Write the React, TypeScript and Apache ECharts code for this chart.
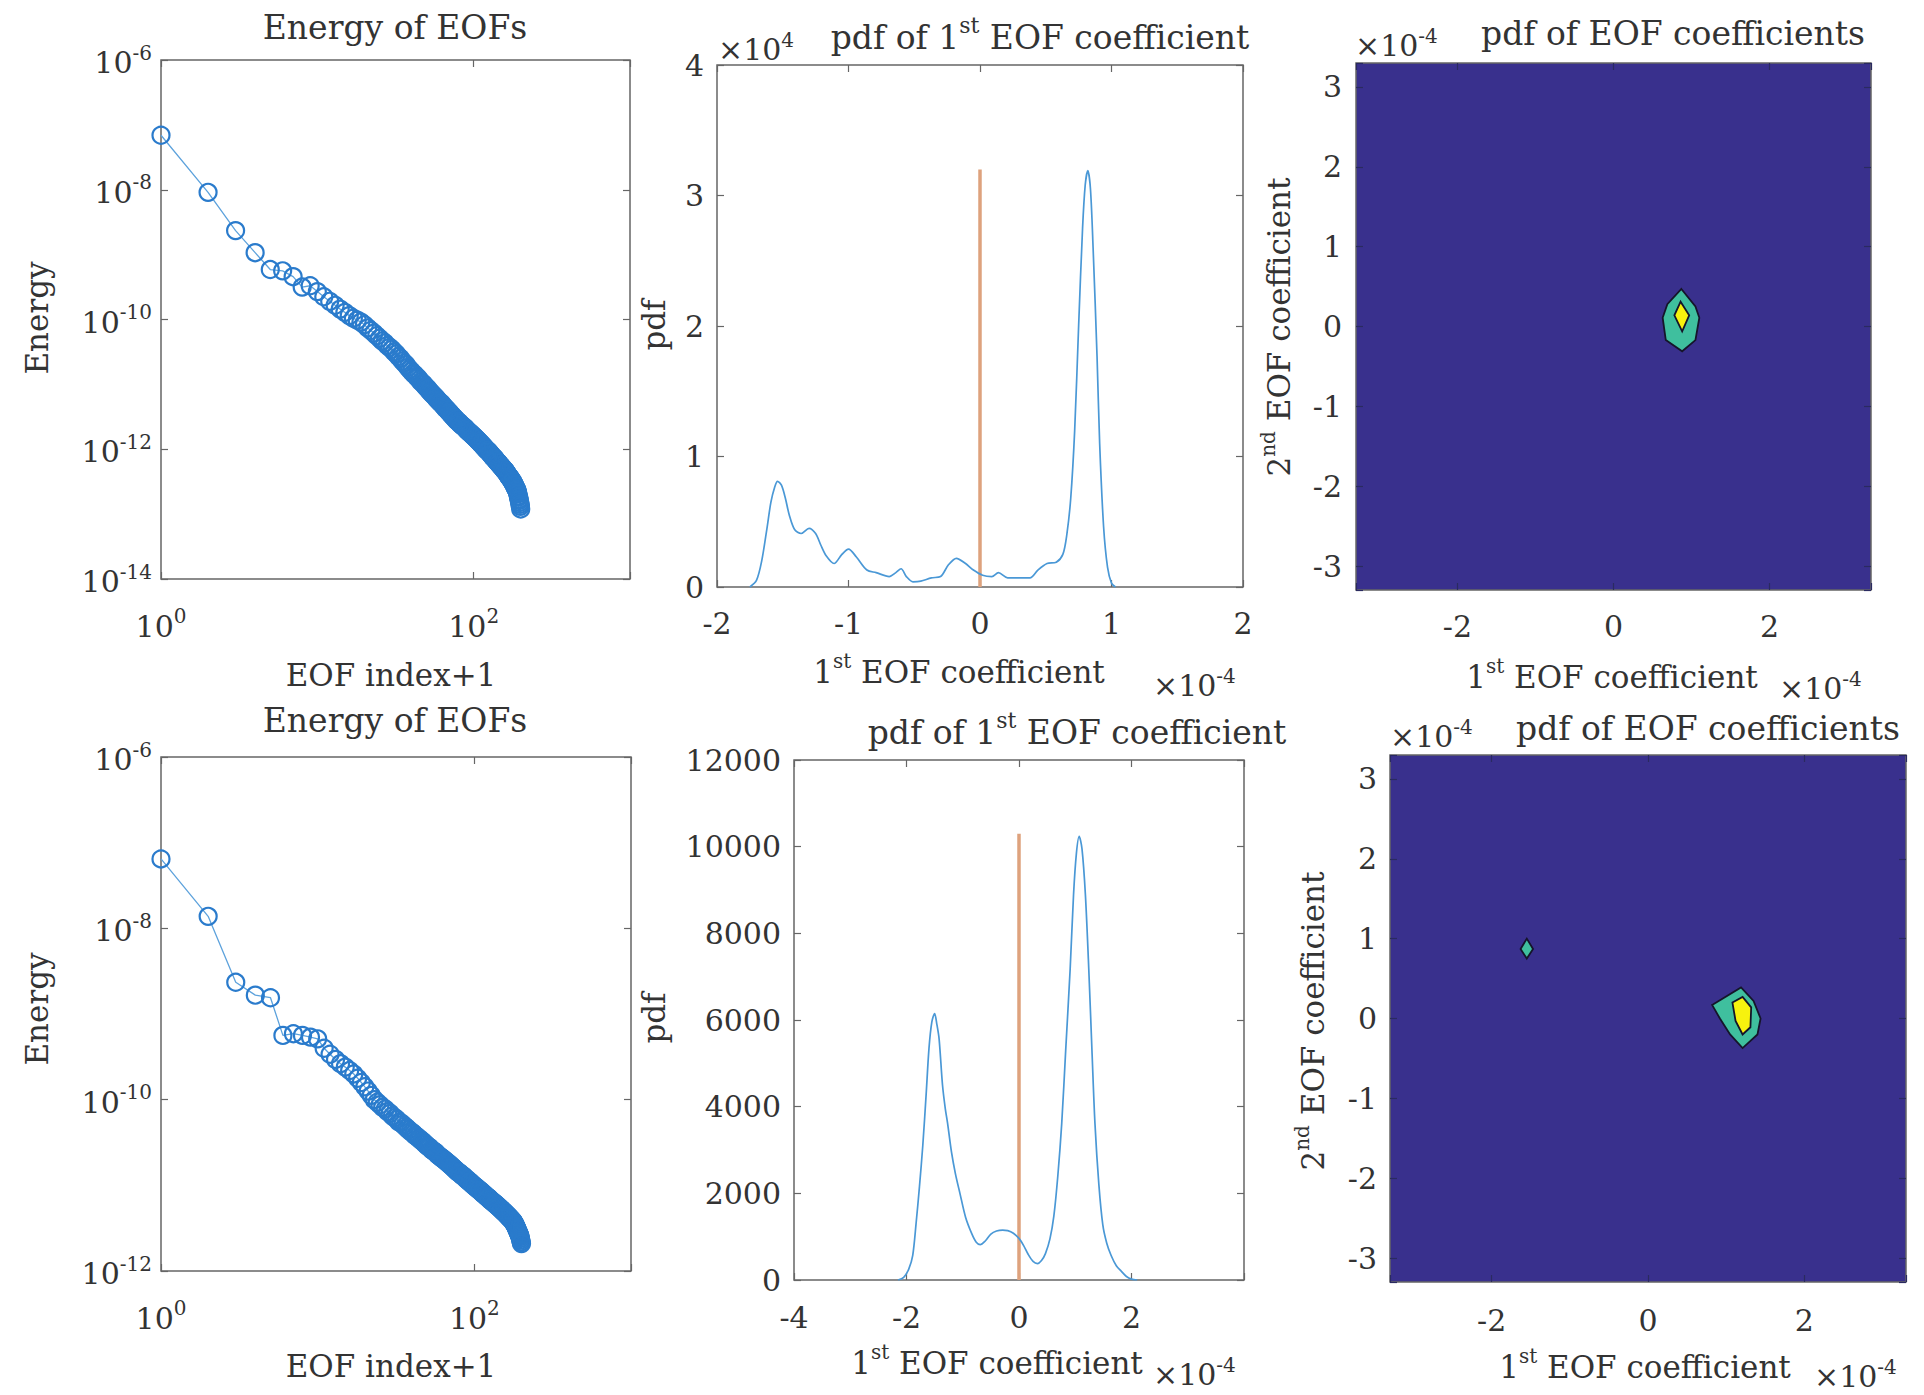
import React, { useEffect, useRef } from "react";
import * as echarts from "echarts";

// ---------- DATA ----------
// log10 of EOF energy, EOF index+1 = 1..200 (top row)
const energyTopLog10 = [
  -7.16, -8.04, -8.63, -8.97, -9.23, -9.25, -9.34, -9.5, -9.48, -9.57,
  -9.65, -9.72, -9.78, -9.84, -9.89, -9.94, -9.98, -10.01, -10.04, -10.08,
  -10.13, -10.17, -10.21, -10.25, -10.29, -10.33, -10.36, -10.4, -10.43, -10.46,
  -10.5, -10.53, -10.57, -10.6, -10.64, -10.67, -10.7, -10.74, -10.77, -10.8,
  -10.83, -10.85, -10.88, -10.9, -10.93, -10.96, -10.98, -11.0, -11.03, -11.05,
  -11.07, -11.1, -11.12, -11.14, -11.16, -11.18, -11.2, -11.22, -11.24, -11.26,
  -11.28, -11.29, -11.31, -11.33, -11.35, -11.37, -11.38, -11.4, -11.42, -11.43,
  -11.45, -11.47, -11.48, -11.5, -11.51, -11.53, -11.54, -11.56, -11.57, -11.58,
  -11.59, -11.61, -11.62, -11.63, -11.64, -11.65, -11.66, -11.67, -11.68, -11.7,
  -11.71, -11.72, -11.73, -11.74, -11.75, -11.76, -11.77, -11.78, -11.79, -11.8,
  -11.81, -11.82, -11.83, -11.84, -11.85, -11.86, -11.87, -11.88, -11.89, -11.9,
  -11.91, -11.92, -11.93, -11.94, -11.95, -11.96, -11.97, -11.98, -11.99, -12.0,
  -12.01, -12.02, -12.02, -12.03, -12.04, -12.05, -12.06, -12.07, -12.08, -12.09,
  -12.1, -12.11, -12.12, -12.13, -12.13, -12.14, -12.15, -12.16, -12.17, -12.18,
  -12.19, -12.2, -12.2, -12.21, -12.22, -12.23, -12.24, -12.25, -12.25, -12.26,
  -12.27, -12.28, -12.29, -12.29, -12.3, -12.31, -12.32, -12.33, -12.33, -12.34,
  -12.35, -12.36, -12.37, -12.38, -12.39, -12.4, -12.41, -12.42, -12.43, -12.43,
  -12.44, -12.45, -12.46, -12.47, -12.48, -12.49, -12.5, -12.5, -12.52, -12.53,
  -12.54, -12.55, -12.56, -12.58, -12.59, -12.6, -12.61, -12.62, -12.63, -12.65,
  -12.67, -12.69, -12.72, -12.74, -12.77, -12.79, -12.82, -12.85, -12.88, -12.92,
];

// log10 of EOF energy, bottom row
const energyBottomLog10 = [
  -7.19, -7.86, -8.63, -8.78, -8.81, -9.25, -9.23, -9.25, -9.27, -9.29,
  -9.4, -9.47, -9.53, -9.58, -9.62, -9.66, -9.7, -9.75, -9.8, -9.85,
  -9.9, -9.95, -10.0, -10.03, -10.06, -10.09, -10.11, -10.14, -10.16, -10.19,
  -10.21, -10.23, -10.26, -10.27, -10.29, -10.31, -10.33, -10.35, -10.37, -10.38,
  -10.4, -10.42, -10.43, -10.45, -10.46, -10.48, -10.49, -10.51, -10.52, -10.54,
  -10.55, -10.56, -10.58, -10.59, -10.6, -10.61, -10.62, -10.64, -10.65, -10.66,
  -10.67, -10.68, -10.69, -10.7, -10.71, -10.72, -10.73, -10.74, -10.75, -10.76,
  -10.77, -10.78, -10.79, -10.8, -10.81, -10.82, -10.83, -10.84, -10.85, -10.85,
  -10.86, -10.87, -10.88, -10.89, -10.89, -10.9, -10.91, -10.92, -10.93, -10.93,
  -10.94, -10.95, -10.96, -10.96, -10.97, -10.98, -10.99, -10.99, -11.0, -11.01,
  -11.01, -11.02, -11.03, -11.03, -11.04, -11.05, -11.05, -11.06, -11.06, -11.07,
  -11.08, -11.08, -11.09, -11.1, -11.1, -11.11, -11.11, -11.12, -11.13, -11.13,
  -11.14, -11.14, -11.15, -11.15, -11.16, -11.17, -11.17, -11.18, -11.18, -11.19,
  -11.19, -11.2, -11.2, -11.21, -11.21, -11.22, -11.22, -11.23, -11.23, -11.24,
  -11.24, -11.25, -11.25, -11.26, -11.26, -11.27, -11.27, -11.28, -11.28, -11.29,
  -11.29, -11.3, -11.3, -11.31, -11.31, -11.32, -11.32, -11.33, -11.33, -11.34,
  -11.34, -11.35, -11.35, -11.36, -11.36, -11.37, -11.37, -11.38, -11.38, -11.39,
  -11.39, -11.4, -11.4, -11.41, -11.41, -11.42, -11.42, -11.43, -11.44, -11.45,
  -11.45, -11.46, -11.47, -11.48, -11.49, -11.5, -11.51, -11.52, -11.53, -11.54,
  -11.55, -11.56, -11.57, -11.58, -11.59, -11.6, -11.62, -11.64, -11.66, -11.68,
];

// pdf of 1st EOF coefficient (top): x in 1e-4, pdf in 1e4
const pdfTopX = [
  -1.75, -1.7, -1.66, -1.62, -1.59, -1.56, -1.54, -1.51, -1.48, -1.45, -1.41, -1.36, -1.3, -1.25,
  -1.21, -1.17, -1.11, -1.05, -1.0, -0.94, -0.86, -0.79, -0.69, -0.64, -0.6, -0.56, -0.51, -0.45,
  -0.37, -0.3, -0.24, -0.18, -0.11, -0.05, 0.02, 0.09, 0.14, 0.21, 0.3, 0.38, 0.44, 0.51, 0.58,
  0.63, 0.66, 0.69, 0.72, 0.75, 0.78, 0.8, 0.82, 0.84, 0.86, 0.89, 0.91, 0.94, 0.97, 1.0, 1.03,
];
const pdfTopY = [
  0, 0.05, 0.2, 0.45, 0.65, 0.77, 0.81, 0.78, 0.68, 0.55, 0.44, 0.41, 0.45, 0.41,
  0.32, 0.24, 0.18, 0.25, 0.29, 0.23, 0.13, 0.11, 0.08, 0.11, 0.14, 0.08, 0.04, 0.045,
  0.07, 0.08, 0.17, 0.22, 0.18, 0.13, 0.09, 0.08, 0.11, 0.07, 0.07, 0.07, 0.13, 0.18, 0.19,
  0.25, 0.4, 0.68, 1.2, 2.0, 2.75, 3.08, 3.19, 3.05, 2.6, 1.77, 1.1, 0.46, 0.15, 0.03, 0,
];
const zeroLineTopHeight = 3.2;

// pdf of 1st EOF coefficient (bottom): x in 1e-4
const pdfBottomX = [
  -2.15, -2.05, -1.96, -1.89, -1.83, -1.77, -1.71, -1.65, -1.6, -1.55, -1.5, -1.46, -1.42, -1.36,
  -1.31, -1.27, -1.2, -1.13, -1.05, -0.95, -0.84, -0.76, -0.69, -0.6, -0.5, -0.4, -0.29, -0.2,
  -0.1, 0.0, 0.08, 0.16, 0.25, 0.33, 0.4, 0.47, 0.55, 0.62, 0.69, 0.76, 0.83, 0.91, 0.97, 1.02,
  1.07, 1.12, 1.18, 1.24, 1.3, 1.35, 1.42, 1.49, 1.56, 1.64, 1.73, 1.82, 1.91, 2.0, 2.1,
];
const pdfBottomY = [
  0, 60, 250, 560, 1300, 2150, 3110, 4300, 5350, 5950, 6150, 5900, 5560, 4500,
  3950, 3620, 2950, 2450, 2000, 1450, 1070, 870, 815, 900, 1060, 1130, 1150, 1140,
  1080, 960, 800, 600, 430, 380, 450, 610, 950, 1480, 2400, 3620, 5300, 7190, 8900, 9840,
  10240, 9950, 8900, 7190, 5200, 3620, 2200, 1270, 850, 560, 330, 200, 80, 20, 0,
];
const zeroLineBottomHeight = 10300;

// joint pdf contour regions (x, y in 1e-4)
const contourTopOuter = [[0.87, 0.47], [1.05, 0.25], [1.1, 0.11], [1.05, -0.17], [0.88, -0.31], [0.67, -0.17], [0.63, 0.11], [0.69, 0.28]];
const contourTopInner = [[0.86, 0.31], [0.97, 0.14], [0.88, -0.06], [0.78, 0.14]];
const contourBottomSmall = [[-1.55, 1.0], [-1.47, 0.87], [-1.55, 0.75], [-1.63, 0.87]];
const contourBottomOuter = [[0.82, 0.17], [1.19, 0.39], [1.35, 0.22], [1.44, 0.0], [1.4, -0.2], [1.21, -0.37], [1.05, -0.2], [0.92, 0.0]];
const contourBottomInner = [[1.08, 0.2], [1.21, 0.27], [1.32, 0.14], [1.31, -0.11], [1.21, -0.2], [1.12, -0.03]];

// ---------- STYLE ----------
const FONT = "DejaVu Serif";
const TXT = "#333333";
const AXIS = "#666666";
const NAVY = "#39308d";
const TEAL = "#3fbf9e";
const YELLOW = "#f7f20e";
const BLUE = "#2a7bcc";
const TICK_SIZE = 30;

const makeRich = (size: number) => ({
  b: { fontFamily: FONT, fontSize: size, color: TXT, verticalAlign: "bottom" },
  s: {
    fontFamily: FONT,
    fontSize: Math.round(size * 0.66),
    color: TXT,
    verticalAlign: "bottom",
    padding: [0, 0, Math.round(size * 0.5), 0],
  },
});

const isInt = (v: number) => Math.abs(v - Math.round(v)) < 1e-9;

export default function App() {
  const ref = useRef<HTMLDivElement>(null);

  useEffect(() => {
    document.body.style.margin = "0";
    if (!ref.current) return;
    const chart = echarts.init(ref.current, undefined, { renderer: "svg" });

    const grids = [
      { left: 161, top: 60, width: 469, height: 519 },
      { left: 717, top: 65, width: 526, height: 522 },
      { left: 1356, top: 63, width: 515, height: 527, bg: NAVY },
      { left: 161, top: 757, width: 470, height: 514 },
      { left: 794, top: 760, width: 450, height: 520 },
      { left: 1390, top: 755, width: 516, height: 527, bg: NAVY },
    ];

    const logFmt = (v: number) => `{b|10}{s|${Math.round(v)}}`;
    const logFmtEven = (v: number) => (isInt(v) && Math.round(v) % 2 === 0 ? `{b|10}{s|${Math.round(v)}}` : "");
    const intFmt = (v: number) => (isInt(v) ? `${Math.round(v)}` : "");

    type Spec = { min: number; max: number; interval?: number; splitNumber?: number; fmt: any; margin: number };
    const xSpecs: Spec[] = [
      { min: 0, max: 3, interval: 2, fmt: logFmtEven, margin: 27 },
      { min: -2, max: 2, interval: 1, fmt: intFmt, margin: 21 },
      { min: -3.3, max: 3.3, splitNumber: 3, fmt: intFmt, margin: 21 },
      { min: 0, max: 3, interval: 2, fmt: logFmtEven, margin: 27 },
      { min: -4, max: 4, interval: 2, fmt: (v: number) => (v >= 4 ? "" : intFmt(v)), margin: 22 },
      { min: -3.3, max: 3.3, splitNumber: 3, fmt: intFmt, margin: 23 },
    ];
    const ySpecs: Spec[] = [
      { min: -14, max: -6, interval: 2, fmt: logFmt, margin: 9 },
      { min: 0, max: 4, interval: 1, fmt: intFmt, margin: 13 },
      { min: -3.3, max: 3.3, splitNumber: 6, fmt: intFmt, margin: 14 },
      { min: -12, max: -6, interval: 2, fmt: logFmt, margin: 9 },
      { min: 0, max: 12000, interval: 2000, fmt: intFmt, margin: 13 },
      { min: -3.3, max: 3.3, splitNumber: 6, fmt: intFmt, margin: 13 },
    ];

    const tickColor = (i: number) => (grids[i].bg ? "#2a2a60" : AXIS);
    const mkAxis = (i: number, spec: Spec, position: string, showLabel: boolean) => ({
      type: "value",
      gridIndex: i,
      position,
      min: spec.min,
      max: spec.max,
      interval: spec.interval,
      splitNumber: spec.splitNumber,
      axisLine: { show: false, onZero: false },
      splitLine: { show: false },
      axisTick: { show: true, inside: true, length: 7, lineStyle: { color: tickColor(i), width: 1.2 } },
      axisLabel: {
        show: showLabel,
        formatter: spec.fmt,
        margin: spec.margin,
        color: TXT,
        fontFamily: FONT,
        fontSize: TICK_SIZE,
        rich: makeRich(TICK_SIZE),
        hideOverlap: false,
      },
    });

    const xAxis: any[] = [];
    const yAxis: any[] = [];
    grids.forEach((_, i) => {
      xAxis.push(mkAxis(i, xSpecs[i], "bottom", true));
      xAxis.push(mkAxis(i, xSpecs[i], "top", false));
      yAxis.push(mkAxis(i, ySpecs[i], "left", true));
      yAxis.push(mkAxis(i, ySpecs[i], "right", false));
    });

    const energySeries = (i: number, vals: number[]) => ({
      type: "line",
      xAxisIndex: 2 * i,
      yAxisIndex: 2 * i,
      data: vals.map((v, k) => [Math.log10(k + 1), v]),
      symbol: "circle",
      symbolSize: 17,
      showAllSymbol: true,
      lineStyle: { color: "#5da2dc", width: 1.3 },
      itemStyle: { color: "rgba(0,0,0,0)", borderColor: BLUE, borderWidth: 2.2 },
      silent: true,
    });

    const pdfSeries = (i: number, xs: number[], ys: number[]) => ({
      type: "line",
      xAxisIndex: 2 * i,
      yAxisIndex: 2 * i,
      data: xs.map((x, k) => [x, ys[k]]),
      showSymbol: false,
      smooth: 0.3,
      lineStyle: { color: "#4a98d6", width: 1.7 },
      z: 3,
      silent: true,
    });

    const zeroLine = (i: number, h: number) => ({
      type: "line",
      xAxisIndex: 2 * i,
      yAxisIndex: 2 * i,
      data: [[0, 0], [0, h]],
      showSymbol: false,
      lineStyle: { color: "#dea27d", width: 3.5 },
      z: 2,
      silent: true,
    });

    const contourSeries = (i: number, polys: { pts: number[][]; fill: string }[]) => ({
      type: "custom",
      coordinateSystem: "cartesian2d",
      xAxisIndex: 2 * i,
      yAxisIndex: 2 * i,
      data: polys.map((p) => p.pts[0]),
      renderItem: (params: any, api: any) => {
        const p = polys[params.dataIndex];
        return {
          type: "polygon",
          shape: { points: p.pts.map((q) => api.coord(q)) },
          style: { fill: p.fill, stroke: "#15152a", lineWidth: 1.8 },
        };
      },
      silent: true,
    });

    const txt = (text: string, x: number, y: number, size: number, align = "center", rotation = 0) => ({
      type: "text",
      x,
      y,
      rotation,
      silent: true,
      style: {
        text,
        rich: makeRich(size),
        fontFamily: FONT,
        fontSize: size,
        fill: TXT,
        align,
        verticalAlign: "middle",
        textAlign: align,
        textVerticalAlign: "middle",
      },
    });

    const R = Math.PI / 2;
    const graphic = [
      // top row
      txt("{b|Energy of EOFs}", 395, 27, 33),
      txt("{b|EOF index+1}", 391, 675, 31),
      txt("{b|Energy}", 37, 318, 31, "center", R),
      txt("{b|pdf of 1}{s|st}{b| EOF coefficient}", 1040, 34, 33),
      txt("{b|×10}{s|4}", 718, 47, 30, "left"),
      txt("{b|1}{s|st}{b| EOF coefficient}", 959, 669, 31),
      txt("{b|×10}{s|-4}", 1153, 683, 30, "left"),
      txt("{b|pdf}", 654, 325, 31, "center", R),
      txt("{b|pdf of EOF coefficients}", 1673, 33, 33),
      txt("{b|×10}{s|-4}", 1355, 43, 30, "left"),
      txt("{b|1}{s|st}{b| EOF coefficient}", 1612, 674, 31),
      txt("{b|×10}{s|-4}", 1779, 686, 30, "left"),
      txt("{b|2}{s|nd}{b| EOF coefficient}", 1276, 327, 31, "center", R),
      // bottom row
      txt("{b|Energy of EOFs}", 395, 720, 33),
      txt("{b|EOF index+1}", 391, 1366, 31),
      txt("{b|Energy}", 37, 1009, 31, "center", R),
      txt("{b|pdf of 1}{s|st}{b| EOF coefficient}", 1077, 729, 33),
      txt("{b|1}{s|st}{b| EOF coefficient}", 997, 1360, 31),
      txt("{b|×10}{s|-4}", 1153, 1372, 30, "left"),
      txt("{b|pdf}", 654, 1018, 31, "center", R),
      txt("{b|pdf of EOF coefficients}", 1708, 728, 33),
      txt("{b|×10}{s|-4}", 1390, 734, 30, "left"),
      txt("{b|1}{s|st}{b| EOF coefficient}", 1645, 1364, 31),
      txt("{b|×10}{s|-4}", 1814, 1374, 30, "left"),
      txt("{b|2}{s|nd}{b| EOF coefficient}", 1310, 1021, 31, "center", R),
    ];

    chart.setOption({
      animation: false,
      backgroundColor: "#ffffff",
      textStyle: { fontFamily: FONT },
      grid: grids.map((g) => ({
        left: g.left,
        top: g.top,
        width: g.width,
        height: g.height,
        show: true,
        backgroundColor: g.bg || "rgba(0,0,0,0)",
        borderColor: AXIS,
        borderWidth: 1.5,
        containLabel: false,
      })),
      xAxis,
      yAxis,
      series: [
        energySeries(0, energyTopLog10),
        zeroLine(1, zeroLineTopHeight),
        pdfSeries(1, pdfTopX, pdfTopY),
        contourSeries(2, [
          { pts: contourTopOuter, fill: TEAL },
          { pts: contourTopInner, fill: YELLOW },
        ]),
        energySeries(3, energyBottomLog10),
        zeroLine(4, zeroLineBottomHeight),
        pdfSeries(4, pdfBottomX, pdfBottomY),
        contourSeries(5, [
          { pts: contourBottomSmall, fill: TEAL },
          { pts: contourBottomOuter, fill: TEAL },
          { pts: contourBottomInner, fill: YELLOW },
        ]),
      ],
      graphic,
    });

    return () => chart.dispose();
  }, []);

  return <div ref={ref} style={{ width: 1924, height: 1395 }} />;
}
